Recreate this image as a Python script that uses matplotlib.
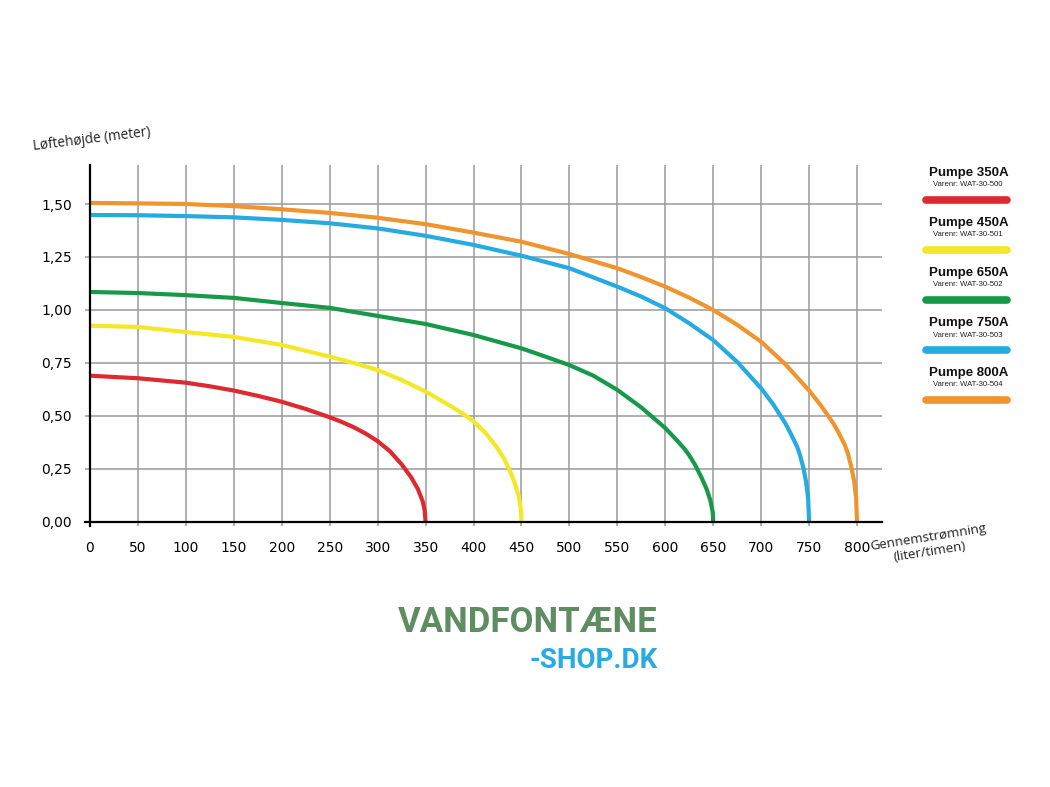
import matplotlib
matplotlib.use("Agg")
import matplotlib.pyplot as plt
from matplotlib.lines import Line2D

# ---------------- data ----------------
pump_names = ["Pumpe 350A", "Pumpe 450A", "Pumpe 650A", "Pumpe 750A", "Pumpe 800A"]
item_numbers = ["Varenr: WAT-30-500", "Varenr: WAT-30-501", "Varenr: WAT-30-502",
                "Varenr: WAT-30-503", "Varenr: WAT-30-504"]
colors = ["#dd2a30", "#f4e826", "#17994a", "#25aae1", "#f0952e"]

flow_350 = [0, 50, 100, 125, 150, 175, 200, 225, 250, 262.5, 275, 287.5, 300, 312.5, 325,
            335, 342, 347, 349, 350]
head_350 = [0.69, 0.678, 0.657, 0.64, 0.62, 0.595, 0.567, 0.533, 0.494, 0.472, 0.447, 0.417,
            0.381, 0.335, 0.272, 0.21, 0.155, 0.097, 0.055, 0.0]

flow_450 = [0, 50, 100, 150, 200, 250, 275, 300, 325, 350, 375, 387.5, 400, 412.5, 425,
            432, 437.5, 443, 447, 449.5, 450]
head_450 = [0.926, 0.92, 0.896, 0.873, 0.835, 0.78, 0.75, 0.717, 0.67, 0.615, 0.55, 0.515,
            0.475, 0.42, 0.348, 0.297, 0.246, 0.183, 0.123, 0.06, 0.0]

flow_650 = [0, 50, 100, 150, 200, 250, 300, 350, 400, 450, 475, 500, 525, 550, 575, 600,
            612.5, 620, 625, 631, 637.5, 643, 647, 649.5, 650]
head_650 = [1.085, 1.08, 1.07, 1.057, 1.033, 1.01, 0.972, 0.934, 0.882, 0.819, 0.78, 0.74,
            0.69, 0.623, 0.54, 0.443, 0.383, 0.345, 0.314, 0.27, 0.212, 0.156, 0.102,
            0.045, 0.0]

flow_750 = [0, 50, 100, 150, 200, 250, 300, 350, 400, 450, 500, 550, 575, 600, 625, 650,
            675, 700, 712.5, 725, 731, 737.5, 740.5, 744, 747, 749, 750]
head_750 = [1.448, 1.447, 1.443, 1.437, 1.425, 1.409, 1.385, 1.35, 1.307, 1.256, 1.197, 1.11,
            1.063, 1.008, 0.937, 0.858, 0.755, 0.63, 0.555, 0.467, 0.415, 0.355, 0.315,
            0.255, 0.185, 0.11, 0.0]

flow_800 = [0, 50, 100, 150, 200, 250, 300, 350, 400, 450, 500, 550, 575, 600, 625, 650,
            675, 700, 725, 750, 762.5, 775, 781, 787.5, 790.5, 794, 797, 799, 800]
head_800 = [1.505, 1.503, 1.5, 1.49, 1.475, 1.458, 1.435, 1.405, 1.365, 1.322, 1.264, 1.197,
            1.155, 1.11, 1.058, 1.0, 0.93, 0.85, 0.745, 0.62, 0.548, 0.467, 0.42, 0.36,
            0.322, 0.26, 0.19, 0.113, 0.0]

flows = [flow_350, flow_450, flow_650, flow_750, flow_800]
heads = [head_350, head_450, head_650, head_750, head_800]

x_ticks = list(range(0, 801, 50))
y_ticks = [0.0, 0.25, 0.5, 0.75, 1.0, 1.25, 1.5]
y_tick_labels = ["0,00", "0,25", "0,50", "0,75", "1,00", "1,25", "1,50"]
y_label = "Løftehøjde (meter)"
x_label = "Gennemstrømning\n(liter/timen)"
logo_line1 = "VANDFONTÆNE"
logo_line2 = "-SHOP.DK"

# ---------------- figure ----------------
W, H = 1050, 787
fig = plt.figure(figsize=(W / 100, H / 100), dpi=100)
fig.patch.set_facecolor("white")

ax = fig.add_axes([85.2 / W, (H - 526.2) / H, (882 - 85.2) / W, (526.2 - 165) / H])
ax.set_xlim(-5, 826)
ax.set_ylim(-0.02, 1.684)

tick_font = "Open Sans"

ax.set_xticks(x_ticks)
ax.set_xticklabels([str(v) for v in x_ticks], rotation=8, fontsize=9.5,
                   family=tick_font, color="#222222")
ax.set_yticks(y_ticks)
ax.set_yticklabels(y_tick_labels, rotation=8, fontsize=9.5, family=tick_font, color="#222222")
ax.tick_params(axis="both", length=0)
ax.tick_params(axis="x", pad=14)
ax.tick_params(axis="y", pad=13)

ax.grid(True, color="#9a9a9a", linewidth=1.1)
ax.set_axisbelow(True)
for s in ["top", "right"]:
    ax.spines[s].set_visible(False)
ax.spines["left"].set_position(("data", 0))
ax.spines["bottom"].set_position(("data", 0))
ax.spines["left"].set_linewidth(1.6)
ax.spines["bottom"].set_linewidth(1.6)
ax.spines["left"].set_zorder(5)
ax.spines["bottom"].set_zorder(5)

for fl, hd, c in zip(flows, heads, colors):
    ax.plot(fl, hd, color=c, linewidth=3.0, solid_capstyle="butt",
            solid_joinstyle="round", zorder=3)

# axis titles
fig.text(92 / W, 1 - 139 / H, y_label, ha="center", va="center", rotation=7,
         fontsize=9.8, family=tick_font, color="#222222")
fig.text(929 / W, 1 - 545 / H, x_label, ha="center", va="center", rotation=9,
         fontsize=9.5, family=tick_font, color="#222222", linespacing=1.15)

# legend (custom stacked)
for i, (name, num, c) in enumerate(zip(pump_names, item_numbers, colors)):
    y0 = 173 + 50 * i
    fig.text(969 / W, 1 - y0 / H, name, ha="center", va="center", fontsize=9.5,
             fontweight="bold", family="Liberation Sans", color="#111111")
    fig.text(968 / W, 1 - (y0 + 12) / H, num, ha="center", va="center", fontsize=5.6,
             family="Liberation Sans", color="#222222")
    fig.add_artist(Line2D([926 / W, 1007 / W], [1 - (y0 + 27) / H] * 2,
                          transform=fig.transFigure, color=c, linewidth=5.5,
                          solid_capstyle="round"))

# logo
fig.text(658 / W, 1 - 623 / H, logo_line1, ha="right", va="center", fontsize=25,
         fontweight="bold", family="Roboto", color="#5e8d62")
fig.text(658 / W, 1 - 660 / H, logo_line2, ha="right", va="center", fontsize=20,
         fontweight="bold", family="Roboto", color="#29abe2")

fig.savefig("out.png", dpi=100, facecolor="white")
